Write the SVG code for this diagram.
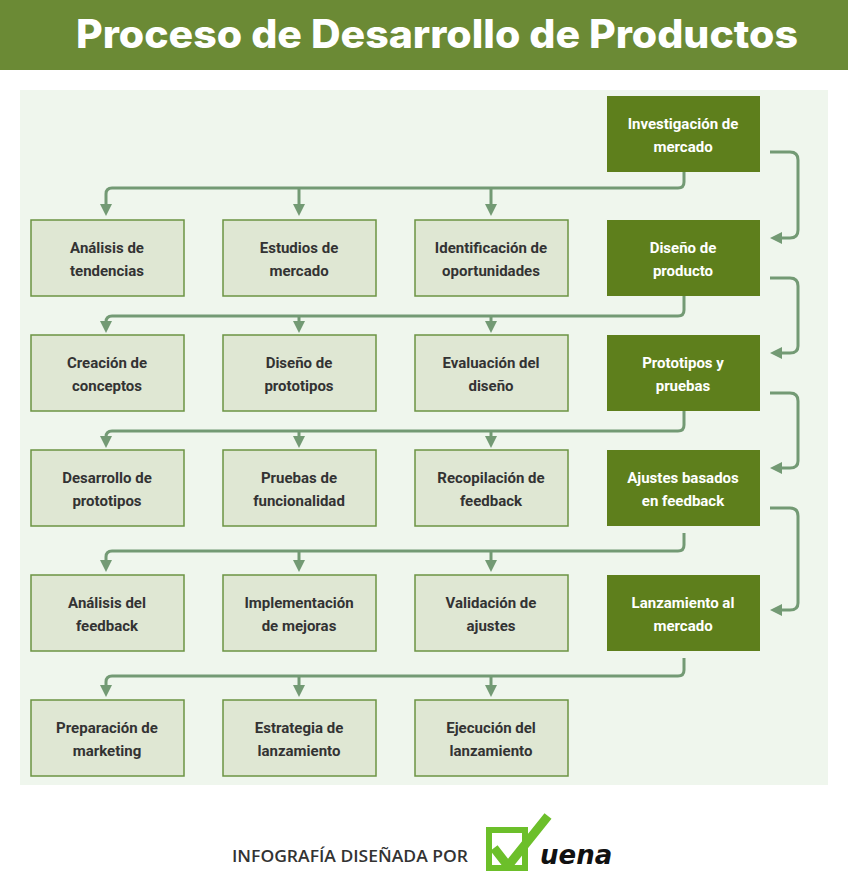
<svg xmlns="http://www.w3.org/2000/svg" width="848" height="895" viewBox="0 0 848 895">
<defs>
<marker id="ah" viewBox="0 0 10 10" refX="5" refY="5" markerWidth="4" markerHeight="4" orient="auto-start-reverse"><path d="M0,0 L10,5 L0,10 z" fill="#739a74"/></marker>
</defs>
<style>
.l rect{fill:#dfe7d3;stroke:#6c9443;stroke-width:1.5}
.d rect{fill:#5e7f1c}
.l text{fill:#333;font:bold 15px Roboto,"Liberation Sans",sans-serif;text-anchor:middle}
.d text{fill:#fff;font:bold 15px Roboto,"Liberation Sans",sans-serif;text-anchor:middle}
.c path{fill:none;stroke:#739a74;stroke-width:3;marker-end:url(#ah)}
</style>
<rect width="848" height="895" fill="#fff"/>
<rect width="848" height="70" fill="#6b8a35"/>
<text x="437" y="48" fill="#fff" font-family="Inter,'Liberation Sans',sans-serif" font-weight="800" font-size="39" text-anchor="middle" textLength="722" lengthAdjust="spacingAndGlyphs">Proceso de Desarrollo de Productos</text>
<rect x="20" y="90" width="808" height="695" fill="#eff6ed"/>
<g class="c">
<path d="M684,172 V182 Q684,188 678,188 H112 Q106,188 106,194 V210"/>
<path d="M299,188 V210"/><path d="M491,188 V210"/>
<path d="M684,296 V310 Q684,316 678,316 H112 Q106,316 106,322 V327"/>
<path d="M299,316 V327"/><path d="M491,316 V327"/>
<path d="M684,411 V425 Q684,431 678,431 H112 Q106,431 106,437 V442"/>
<path d="M299,431 V442"/><path d="M491,431 V442"/>
<path d="M684,533 V545 Q684,551 678,551 H112 Q106,551 106,557 V566"/>
<path d="M299,551 V566"/><path d="M491,551 V566"/>
<path d="M684,658 V670 Q684,676 678,676 H112 Q106,676 106,682 V691"/>
<path d="M299,676 V691"/><path d="M491,676 V691"/>
<path d="M770,152 H790 Q798,152 798,160 V230 Q798,238 790,238 H776"/>
<path d="M770,278 H790 Q798,278 798,286 V346 Q798,353 790,353 H776"/>
<path d="M770,393 H790 Q798,393 798,401 V461 Q798,468 790,468 H776"/>
<path d="M770,508 H790 Q798,508 798,516 V603 Q798,610 790,610 H776"/>
</g>
<g id="n1" class="d"><rect x="607" y="96" width="153" height="76"/><text x="683" y="129">Investigación de</text><text x="683" y="152">mercado</text></g>
<g id="n2" class="d"><rect x="607" y="220" width="153" height="76"/><text x="683" y="253">Diseño de</text><text x="683" y="276">producto</text></g>
<g id="n3" class="d"><rect x="607" y="335" width="153" height="76"/><text x="683" y="368">Prototipos y</text><text x="683" y="391">pruebas</text></g>
<g id="n4" class="d"><rect x="607" y="450" width="153" height="76"/><text x="683" y="483">Ajustes basados</text><text x="683" y="506">en feedback</text></g>
<g id="n5" class="d"><rect x="607" y="575" width="153" height="76"/><text x="683" y="608">Lanzamiento al</text><text x="683" y="631">mercado</text></g>
<g id="a1" class="l"><rect x="31" y="220" width="153" height="76"/><text x="107" y="253">Análisis de</text><text x="107" y="276">tendencias</text></g>
<g id="a2" class="l"><rect x="223" y="220" width="153" height="76"/><text x="299" y="253">Estudios de</text><text x="299" y="276">mercado</text></g>
<g id="a3" class="l"><rect x="415" y="220" width="153" height="76"/><text x="491" y="253">Identificación de</text><text x="491" y="276">oportunidades</text></g>
<g id="b1" class="l"><rect x="31" y="335" width="153" height="76"/><text x="107" y="368">Creación de</text><text x="107" y="391">conceptos</text></g>
<g id="b2" class="l"><rect x="223" y="335" width="153" height="76"/><text x="299" y="368">Diseño de</text><text x="299" y="391">prototipos</text></g>
<g id="b3" class="l"><rect x="415" y="335" width="153" height="76"/><text x="491" y="368">Evaluación del</text><text x="491" y="391">diseño</text></g>
<g id="c1" class="l"><rect x="31" y="450" width="153" height="76"/><text x="107" y="483">Desarrollo de</text><text x="107" y="506">prototipos</text></g>
<g id="c2" class="l"><rect x="223" y="450" width="153" height="76"/><text x="299" y="483">Pruebas de</text><text x="299" y="506">funcionalidad</text></g>
<g id="c3" class="l"><rect x="415" y="450" width="153" height="76"/><text x="491" y="483">Recopilación de</text><text x="491" y="506">feedback</text></g>
<g id="e1" class="l"><rect x="31" y="575" width="153" height="76"/><text x="107" y="608">Análisis del</text><text x="107" y="631">feedback</text></g>
<g id="e2" class="l"><rect x="223" y="575" width="153" height="76"/><text x="299" y="608">Implementación</text><text x="299" y="631">de mejoras</text></g>
<g id="e3" class="l"><rect x="415" y="575" width="153" height="76"/><text x="491" y="608">Validación de</text><text x="491" y="631">ajustes</text></g>
<g id="f1" class="l"><rect x="31" y="700" width="153" height="76"/><text x="107" y="733">Preparación de</text><text x="107" y="756">marketing</text></g>
<g id="f2" class="l"><rect x="223" y="700" width="153" height="76"/><text x="299" y="733">Estrategia de</text><text x="299" y="756">lanzamiento</text></g>
<g id="f3" class="l"><rect x="415" y="700" width="153" height="76"/><text x="491" y="733">Ejecución del</text><text x="491" y="756">lanzamiento</text></g>
<text x="232" y="862" fill="#333" font-family="'Open Sans','Liberation Sans',sans-serif" font-weight="600" font-size="17" textLength="236" lengthAdjust="spacingAndGlyphs">INFOGRAFÍA DISEÑADA POR</text>
<rect x="489" y="830" width="36" height="38" fill="none" stroke="#6cbf2a" stroke-width="6"/>
<path d="M494,848 L508,866 L548,816" fill="none" stroke="#6cbf2a" stroke-width="9" stroke-linejoin="round"/>
<text x="540" y="864" fill="#111" font-family="'DejaVu Sans',sans-serif" font-style="italic" font-weight="bold" font-size="26">uena</text>
</svg>
